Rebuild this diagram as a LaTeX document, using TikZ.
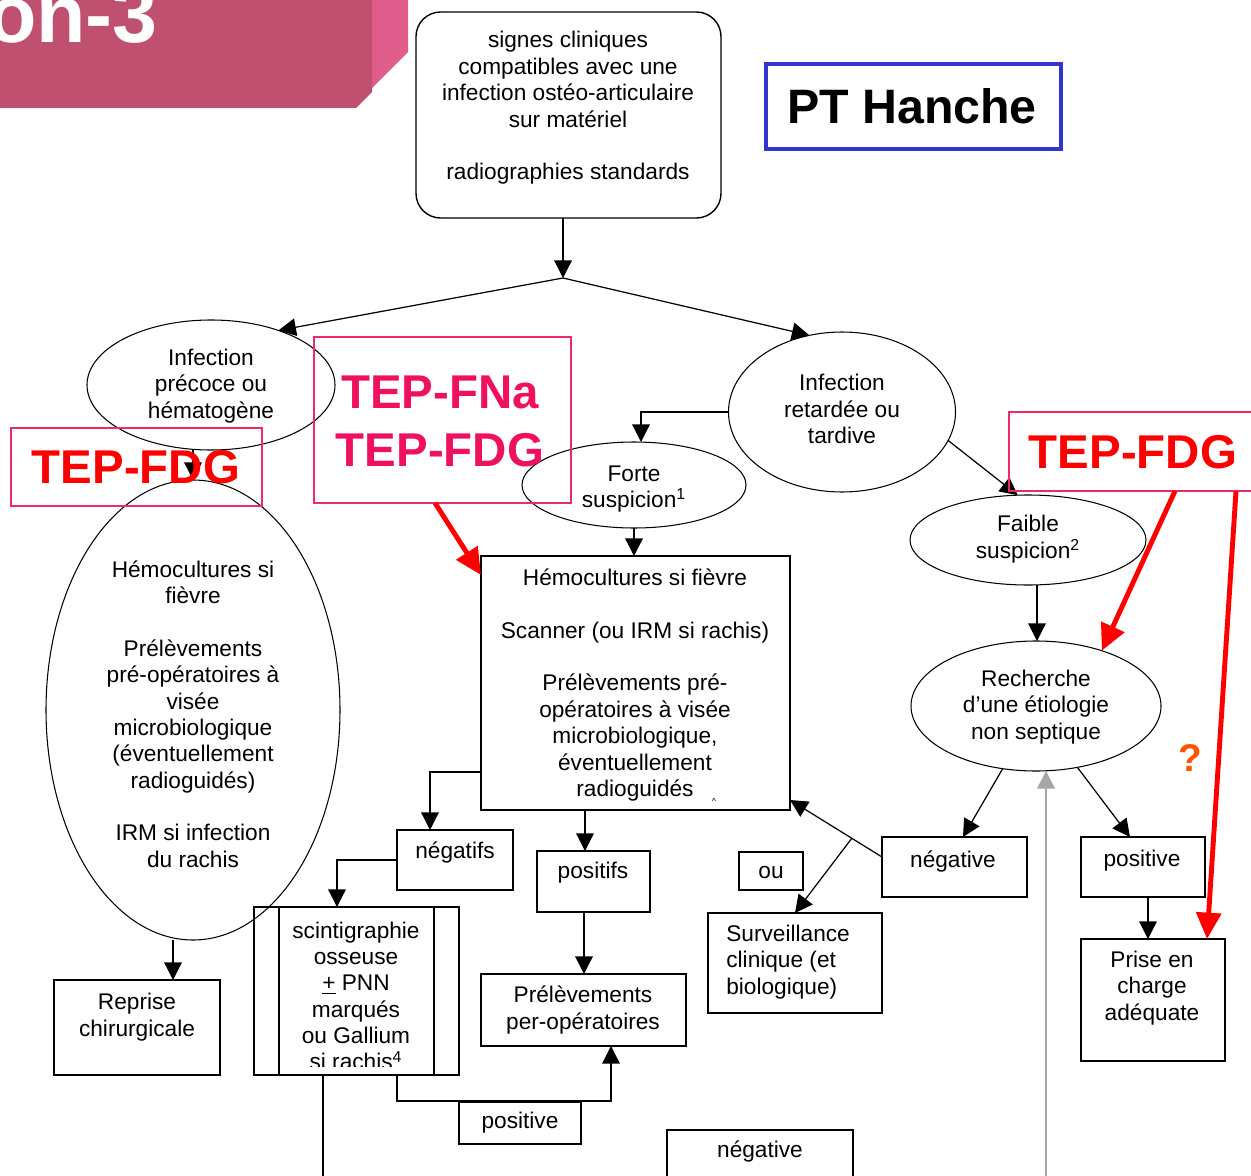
\documentclass[tikz,border=0pt]{standalone}
\usepackage{fontspec}
\setmainfont{Liberation Sans}
\usetikzlibrary{arrows.meta,shapes.geometric,fit}
\newcommand\pxl[1]{#1*0.02cm}
\definecolor{bannerdark}{RGB}{192,80,112}
\definecolor{bannerlight}{RGB}{224,92,138}
\definecolor{ptblue}{RGB}{52,52,204}
\definecolor{tepframe}{RGB}{236,40,110}
\definecolor{tepred}{RGB}{255,0,0}
\definecolor{tepmag}{RGB}{240,16,96}
\definecolor{qorange}{RGB}{255,85,0}
\tikzset{
 box/.style={draw, line width=0.8pt, inner sep=0pt, outer sep=0pt},
 ell/.style={draw, ellipse, line width=0.6pt, inner sep=0pt, outer sep=0pt},
 txt/.style={align=center, inner sep=0pt, font=\fontsize{12.9pt}{15pt}\selectfont},
 arr/.style={line width=0.7pt, -{Triangle[length=10pt,width=10pt]}},
 link/.style={line width=0.7pt},
 redarr/.style={draw=red, line width=2.8pt, -{Triangle[length=15pt,width=14pt]}},
 tepbox/.style={draw=tepframe, line width=1.1pt, inner sep=0pt, outer sep=0pt},
 teptxt/.style={font=\fontsize{27pt}{33pt}\selectfont\bfseries, inner sep=0pt, align=center},
}
\begin{document}
\begin{tikzpicture}[x=0.02cm,y=-0.02cm]
\useasboundingbox (0,0) rectangle (1251,1176);
% banner
\fill[bannerlight] (0,0) -- (408,0) -- (408,52) -- (352,108) -- (0,108) -- cycle;
\fill[bannerdark] (0,0) -- (372,0) -- (372,92) -- (356,108) -- (0,108) -- cycle;
\node[anchor=base east, text=white, font=\fontsize{46pt}{46pt}\selectfont\bfseries, inner sep=0pt] (bannertxt) at (158,43) {on-3};

% top box
\node[box, rounded corners=14pt, fit={(416,12) (721,218)}] (top) {};
\node[txt] (toptxt) at (568,108) {signes cliniques\\compatibles avec une\\infection ostéo-articulaire\\sur matériel\\[15pt]radiographies standards};

% PT Hanche
\node[draw=ptblue, line width=2.2pt, inner sep=0pt, fit={(766,64) (1061,149)}] (pt) {};
\node[font=\fontsize{27.5pt}{30pt}\selectfont\bfseries, inner sep=0pt] (pttxt) at (912,106) {PT Hanche};

\coordinate (apex) at (563,278);

% ellipses
\node[ell, minimum width=\pxl{248}, minimum height=\pxl{130}] (precoce) at (211,385) {};
\node[txt] (precocetxt) at (211,386) {Infection\\précoce ou\\hématogène};
\node[ell, minimum width=\pxl{294}, minimum height=\pxl{460}] (bigell) at (193,710) {};
\node[txt] (bigelltxt) at (193,714) {Hémocultures si\\fièvre\\[15pt]Prélèvements\\pré-opératoires à\\visée\\microbiologique\\(éventuellement\\radioguidés)\\[15pt]IRM si infection\\du rachis};
\node[ell, minimum width=\pxl{227}, minimum height=\pxl{160}] (retardee) at (842,412) {};
\node[txt] (retardeetxt) at (842,409) {Infection\\retardée ou\\tardive};
\node[ell, minimum width=\pxl{224}, minimum height=\pxl{86}] (forte) at (634,485) {};
\node[txt] (fortetxt) at (634,489) {Forte\\suspicion\textsuperscript{1}};
\node[ell, minimum width=\pxl{236}, minimum height=\pxl{90}] (faible) at (1028,540) {};
\node[txt] (faibletxt) at (1028,539) {Faible\\suspicion\textsuperscript{2}};
\node[ell, minimum width=\pxl{250}, minimum height=\pxl{130}] (recherche) at (1036,706) {};
\node[txt] (recherchetxt) at (1036,707) {Recherche\\d’une étiologie\\non septique};

% boxes
\node[box, fit={(54,980) (220,1075)}] (reprise) {};
\node[txt] (reprisetxt) at (137,1017) {Reprise\\chirurgicale};
\node[box, fit={(481,556) (790,810)}] (cbox) {};
\node[txt] (cboxtxt) at (635,685) {Hémocultures si fièvre\\[15pt]Scanner (ou IRM si rachis)\\[15pt]Prélèvements pré-\\opératoires à visée\\microbiologique,\\éventuellement\\radioguidés};
\node[inner sep=0pt, font=\tiny] (caret) at (714,801) {\textasciicircum};
\node[box, fit={(397,830) (513,890)}] (negatifs) {};
\node[txt] (negatifstxt) at (455,852) {négatifs};
\node[box, fit={(537,851) (650,912)}] (positifs) {};
\node[txt] (positifstxt) at (593,873) {positifs};
\node[box, fit={(481,974) (686,1046)}] (prelev) {};
\node[txt] (prelevtxt) at (583,1010) {Prélèvements\\per-opératoires};
\node[box, fit={(254,907) (459,1075)}] (scinti) {};
\draw[link] (279,0 |- scinti.north) -- (279,0 |- scinti.south);
\draw[link] (434,0 |- scinti.north) -- (434,0 |- scinti.south);
\begin{scope}
\clip (279,907) rectangle (434,1066);
\node[txt] (scintitxt) at (356,996) {scintigraphie\\osseuse\\\underline{+} PNN\\marqués\\ou Gallium\\si rachis\textsuperscript{4}};
\end{scope}
\node[box, fit={(459,1102) (581,1144)}] (posB) {};
\node[txt] (posBtxt) at (520,1123) {positive};
\node[box, fit={(667,1130) (853,1200)}] (negB) {};
\node[txt] (negBtxt) at (760,1151) {négative};
\node[box, fit={(739,852) (803,890)}] (ou) {};
\node[txt] (outxt) at (771,873) {ou};
\node[box, fit={(708,913) (882,1013)}] (surv) {};
\node[txt, align=left, anchor=west] (survtxt) at (726,962) {Surveillance\\clinique (et\\biologique)};
\node[box, fit={(882,837) (1027,897)}] (negR) {};
\node[txt] (negRtxt) at (953,861) {négative};
\node[box, fit={(1081,837) (1205,897)}] (posR) {};
\node[txt] (posRtxt) at (1142,861) {positive};
\node[box, fit={(1081,939) (1225,1061)}] (prise) {};
\node[txt] (prisetxt) at (1152,988) {Prise en\\charge\\adéquate};

% connectors
\draw[arr] (top.south -| apex) -- (apex);
\draw[arr] (apex) -- (precoce.39);
\draw[arr] (apex) -- (retardee.113);
\draw[arr] (bigell.north |- precoce.south) -- (bigell.north);
\draw[arr] (173,0 |- bigell.south) -- (173,0 |- reprise.north);
\draw[arr] (retardee.west) -| (641,0 |- forte.north);
\draw[arr] (retardee.-15) -- (faible.103);
\draw[arr] (forte.south) -- (forte.south |- cbox.north);
\draw[arr] (cbox.west |- 0,772) -| (430,0 |- negatifs.north);
\draw[arr] (585,0 |- cbox.south) -- (585,0 |- positifs.north);
\draw[arr] (584,0 |- positifs.south) -- (584,0 |- prelev.north);
\draw[arr] (negatifs.west) -| (337,0 |- scinti.north);
\coordinate (bot1) at (323,1176);
\draw[link] (323,0 |- scinti.south) -- (bot1);
\coordinate (j1) at (611,1101);
\draw[arr] (397,0 |- scinti.south) |- (j1) -- (611,0 |- prelev.south);
\coordinate (knee) at (852,838);
\draw[arr] (negR.west |- 0,857) -- (cbox.east |- 0,800);
\draw[arr] (knee) -- (795,0 |- surv.north);
\draw[arr] (1037,0 |- faible.south) -- (1037,0 |- recherche.north);
\draw[arr] (recherche.-118) -- (963,0 |- negR.north);
\draw[arr] (recherche.-56) -- (1130,0 |- posR.north);
\coordinate (bot2) at (1046,1176);
\draw[arr, draw=gray!70, line width=1pt] (bot2) -- (1046,0 |- recherche.south);
\draw[arr] (1148,0 |- posR.south) -- (1148,0 |- prise.north);

% TEP annotations
\node[tepbox, fit={(11,428) (262,506)}] (tepL) {};
\node[teptxt, text=tepred] (tepLtxt) at (136,467) {TEP-FDG};
\node[tepbox, fit={(314,337) (571,503)}] (tepM) {};
\node[teptxt, text=tepmag] (tepMtxt) at (440,421) {TEP-FNa\\TEP-FDG};
\node[tepbox, fit={(1009,412) (1265,491)}] (tepR) {};
\node[teptxt, text=tepred] (tepRtxt) at (1133,452) {TEP-FDG};
\node[font=\fontsize{22pt}{22pt}\selectfont\bfseries, text=qorange, inner sep=0pt] (q) at (1190,758) {?};

\draw[redarr] (435,0 |- tepM.south) -- (cbox.west |- 0,575);
\draw[redarr] (1175,0 |- tepR.south) -- (recherche.40);
\draw[redarr] (1236,0 |- tepR.south) -- (1207,0 |- prise.north);
\end{tikzpicture}
\end{document}
